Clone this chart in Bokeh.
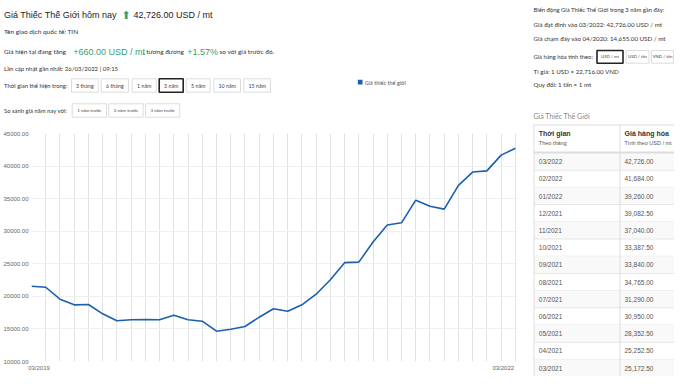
from bokeh.plotting import figure
from bokeh.layouts import row, column
from bokeh.models import FixedTicker, NumeralTickFormatter, Range1d
from bokeh.core.properties import value
from bokeh.embed import file_html
from bokeh.resources import INLINE

# ---------------- data ----------------
point_index = list(range(35))
prices = [21560, 21400, 19560, 18700, 18750, 17320, 16245, 16400, 16450, 16400,
          17110, 16400, 16190, 14655, 14960, 15370, 16800, 18090, 17720, 18700,
          20330, 22540, 25172.5, 25252.5, 28352.5, 30950, 31290, 34765, 33840,
          33387.5, 37040, 39082.5, 39260, 41684, 42726]
x_tick_labels = ["03/2019", "03/2022"]
x_tick_pos = [0.53, 33.15]
y_ticks = [10000, 15000, 20000, 25000, 30000, 35000, 40000, 45000]

table_months = ["03/2022", "02/2022", "01/2022", "12/2021", "11/2021", "10/2021",
                "09/2021", "08/2021", "07/2021", "06/2021", "05/2021", "04/2021", "03/2021"]
table_values = [42726.00, 41684.00, 39260.00, 39082.50, 37040.00, 33387.50,
                33840.00, 34765.00, 31290.00, 30950.00, 28352.50, 25252.50, 25172.50]

range_buttons = ["3 tháng", "6 tháng", "1 năm", "3 năm", "5 năm", "10 năm", "15 năm"]
compare_buttons = ["1 năm trước", "2 năm trước", "3 năm trước"]
unit_buttons = ["USD / mt", "USD / tấn", "VND / tấn"]

# ---------------- styles / layout ----------------
W, H = 674, 376
LEFT_W = 517
HEAD_H = 120
BLUE = "#1c5fae"
GREEN = "#33a06e"
DARK = "#333333"
SMALL_FONT = "Lato"
BIG_FONT = "Liberation Sans"


def blank(width, height, x0, y0):
    f = figure(width=width, height=height, output_backend="svg", toolbar_location=None,
               x_range=Range1d(x0, x0 + width), y_range=Range1d(y0 + height, y0),
               x_axis_type=None, y_axis_type=None, min_border=0, frame_align=False)
    f.min_border_left = f.min_border_right = f.min_border_top = f.min_border_bottom = 0
    f.outline_line_color = None
    f.grid.visible = False
    f.background_fill_color = "white"
    f.border_fill_color = "white"
    return f


def txt(f, x, y, s, size=6.5, color=DARK, font=SMALL_FONT, style="normal", align="left"):
    f.text(x=[x], y=[y], text=[s], text_font=value(font), text_font_size=value(f"{size}px"),
           text_color=color, text_font_style=style, text_align=align, text_baseline="middle")


def box(f, l, t, r, b, fill=None, line=None, lw=1.0):
    f.quad(left=[l], right=[r], top=[t], bottom=[b],
           fill_color=fill if fill else "white", fill_alpha=1.0 if fill else 0.0,
           line_color=line if line else None, line_width=lw)


def buttons(f, labels, xs, top, bottom, size, selected=None):
    for i, (lab, (l, r)) in enumerate(zip(labels, xs)):
        if i == selected:
            box(f, l, top, r, bottom, fill="white", line="#222222", lw=1.6)
        else:
            box(f, l, top, r, bottom, fill="white", line="#dcdcdc", lw=1.0)
        txt(f, (l + r) / 2, (top + bottom) / 2, lab, size=size, align="center", color="#444444")


# ---------------- header (full width) ----------------
hd = blank(W, HEAD_H, 0, 0)
txt(hd, 3.5, 14.5, "Giá Thiếc Thế Giới hôm nay", size=9, font=BIG_FONT, color="#222222")
txt(hd, 125.5, 14.5, "⬆", size=11, font="DejaVu Sans", color=GREEN, align="center")
txt(hd, 133, 14.5, "42,726.00 USD / mt", size=9, font=BIG_FONT, color="#222222")
txt(hd, 3.5, 30.7, "Tên giao dịch quốc tế: TIN")
txt(hd, 3.5, 51, "Giá hiện tại đang tăng")
txt(hd, 72.7, 51, "+660.00 USD / mt", size=9, font=BIG_FONT, color=GREEN)
txt(hd, 142.5, 51, ", tương đương")
txt(hd, 186.7, 51, "+1.57%", size=9, font=BIG_FONT, color=GREEN)
txt(hd, 219, 51, "so với giá trước đó.")
txt(hd, 3.5, 68.3, "Lần cập nhật gần nhất: 26/03/2022 | 09:15", size=6)
txt(hd, 3.5, 85, "Thời gian thể hiện trong:", size=5.9)
buttons(hd, range_buttons,
        [(71, 97.7), (100.7, 128), (131.7, 155.7), (158.7, 182.7), (185.7, 209.7),
         (213.3, 240), (243.3, 270)], 78.3, 91.7, 5.3, selected=3)
txt(hd, 3.5, 110, "So sánh giá năm nay với:", size=5.9)
buttons(hd, compare_buttons, [(71.7, 106), (108.3, 142.7), (145, 179.3)], 103.3, 116.7, 4.5)
# legend
box(hd, 357.3, 79.3, 362, 84, fill=BLUE)
txt(hd, 364.3, 82.3, "Giá thiếc thế giới", size=5.5, color="#555555")
# sidebar top part
txt(hd, 533, 9, "Biến động Giá Thiếc Thế Giới trong 3 năm gần đây:", size=5.9)
txt(hd, 533, 24, "Giá đạt đỉnh vào 03/2022: 42,726.00 USD / mt", size=6.2)
txt(hd, 533, 37.7, "Giá chạm đáy vào 04/2020: 14,655.00 USD / mt", size=6.2)
txt(hd, 533, 56.3, "Giá hàng hóa tính theo:", size=5.8)
buttons(hd, unit_buttons, [(596.5, 622.5), (625.5, 648.5), (651, 673)], 50, 62.7, 4.3, selected=0)
txt(hd, 533, 70.7, "Tỉ giá: 1 USD = 22,716.00 VND", size=6.2)
txt(hd, 533, 84.3, "Quy đổi: 1 tấn = 1 mt", size=6.2)
txt(hd, 533, 115.7, "Giá Thiếc Thế Giới", size=7, color="#888888")

# ---------------- chart ----------------
p = figure(width=LEFT_W, height=H - HEAD_H, output_backend="svg", toolbar_location=None,
           x_range=Range1d(0, 34.15), y_range=Range1d(10000, 45000),
           min_border_left=30, min_border_right=0, min_border_top=133 - HEAD_H,
           min_border_bottom=15, frame_align=False)
p.outline_line_color = None
p.background_fill_color = "white"
p.border_fill_color = "white"
p.line(point_index, prices, line_color=BLUE, line_width=1.6)

p.yaxis.ticker = FixedTicker(ticks=y_ticks)
p.yaxis.formatter = NumeralTickFormatter(format="0.00")
p.xaxis.ticker = FixedTicker(ticks=x_tick_pos)
p.xaxis.major_label_overrides = {pos: lab for pos, lab in zip(x_tick_pos, x_tick_labels)}
for ax in (p.xaxis, p.yaxis):
    ax.axis_line_color = None
    ax.major_tick_line_color = None
    ax.minor_tick_line_color = None
    ax.major_tick_out = 0
    ax.major_tick_in = 0
    ax.major_label_text_font = BIG_FONT
    ax.major_label_text_font_size = "6px"
    ax.major_label_text_color = "#666666"
p.yaxis.major_label_standoff = 3
p.xaxis.major_label_standoff = 3
p.xgrid.ticker = FixedTicker(ticks=point_index)
p.xgrid.grid_line_color = "#e2e2e2"
p.ygrid.grid_line_color = "#efefef"

# ---------------- sidebar table ----------------
sb = blank(W - LEFT_W, H - HEAD_H, LEFT_W, HEAD_H)
ROW0, ROWH = 152.5, 17.2
for i in range(len(table_months)):
    top = ROW0 + ROWH * i
    if i % 2 == 0:
        box(sb, 533.3, top, 700, top + ROWH, fill="#f9f9f9")
    box(sb, 533.3, top + ROWH - 0.5, 700, top + ROWH + 0.5, fill="#e6e6e6")
box(sb, 533.3, 124, 700, 125, fill="#dddddd")
box(sb, 533.3, 151, 700, 153, fill="#dddddd")
box(sb, 533, 124, 534, 400, fill="#dddddd")
box(sb, 619, 124, 620, 400, fill="#dddddd")

txt(sb, 538.3, 133.3, "Thời gian", size=7, style="bold", color="#333333", font=BIG_FONT)
txt(sb, 538.3, 142.5, "Theo tháng", size=5.5, color="#555555", font=BIG_FONT)
txt(sb, 624, 133.3, "Giá hàng hóa", size=7, style="bold", color="#333333", font=BIG_FONT)
txt(sb, 624, 142.5, "Tính theo USD / mt", size=5.5, color="#555555", font=BIG_FONT)
for i, (m, v) in enumerate(zip(table_months, table_values)):
    cy = ROW0 + ROWH * i + ROWH / 2
    txt(sb, 538.3, cy, m, size=6.5, color="#555555", font=BIG_FONT)
    txt(sb, 624, cy, f"{v:,.2f}", size=6.5, color="#555555", font=BIG_FONT)

layout = column(hd, row(p, sb))
open("out.html", "w").write(file_html(layout, INLINE))
